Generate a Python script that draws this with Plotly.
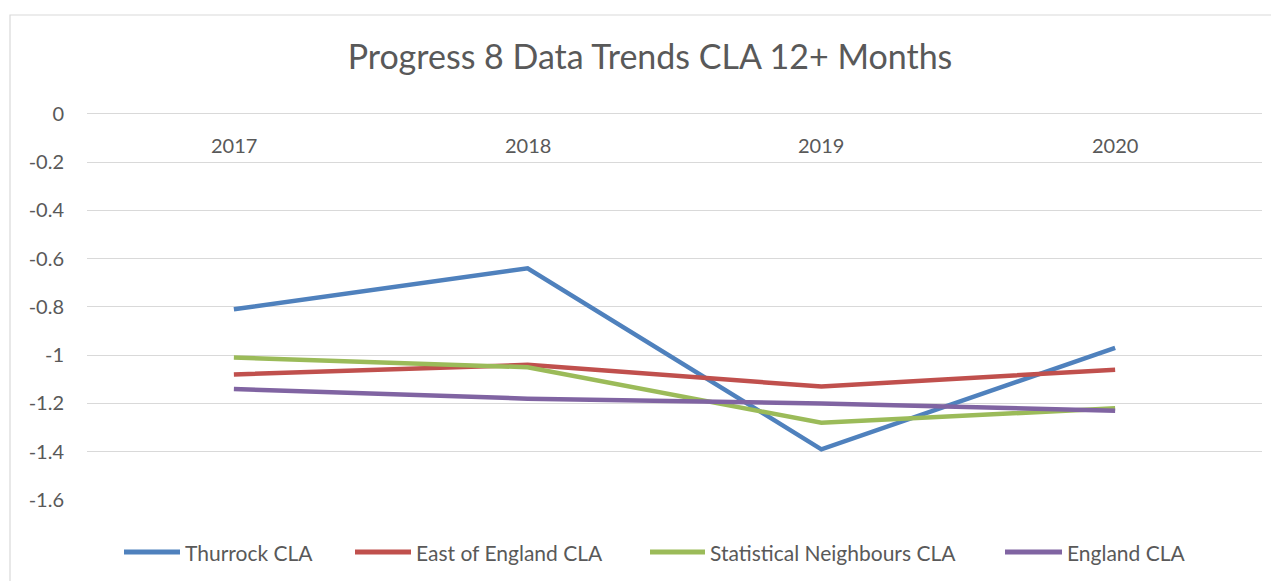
import plotly.graph_objects as go

years = ["2017", "2018", "2019", "2020"]
thurrock = [-0.81, -0.64, -1.39, -0.97]
east_of_england = [-1.08, -1.04, -1.13, -1.06]
stat_neighbours = [-1.01, -1.05, -1.28, -1.22]
england = [-1.14, -1.18, -1.20, -1.23]

series_names = ["Thurrock CLA", "East of England CLA", "Statistical Neighbours CLA", "England CLA"]
series_values = [thurrock, east_of_england, stat_neighbours, england]
series_colors = ["#4F81BD", "#C0504D", "#9BBB59", "#8064A2"]

y_tickvals = [0, -0.2, -0.4, -0.6, -0.8, -1.0, -1.2, -1.4, -1.6]
y_ticktext = ["0", "-0.2", "-0.4", "-0.6", "-0.8", "-1", "-1.2", "-1.4", "-1.6"]

FONT = "Lato"
TXT = "#595959"

# figure geometry (page has an 8px body margin)
W, H = 1271, 573
L, R, T, B = 79, 17, 101, 81
PW = W - L - R
PH = H - T - B


def px_x(page_x):
    return (page_x - 8 - L) / PW


def px_y(page_y):
    return (H - B - (page_y - 8)) / PH


fig = go.Figure()
for name, vals, col in zip(series_names, series_values, series_colors):
    fig.add_trace(go.Scatter(x=years, y=vals, name=name, mode="lines",
                             line=dict(color=col, width=4.5), showlegend=False))

shapes = [dict(type="rect", xref="paper", yref="paper",
               x0=px_x(10), x1=1.2, y0=-0.4, y1=px_y(15),
               line=dict(color="#D9D9D9", width=1.2), fillcolor="rgba(0,0,0,0)",
               layer="below")]
annotations = []

# category labels sit just under the 0 line (Excel axis crossing at 0);
# on a category axis, annotation x is the category's serial index
for i, yr in enumerate(years):
    annotations.append(dict(text=yr, xref="x", yref="paper", x=i, y=px_y(145),
                            xanchor="center", yanchor="middle", showarrow=False,
                            font=dict(family=FONT, size=20, color=TXT)))

# custom legend (Excel style: long key lines)
legend_keys = [(124, 180), (355, 411), (650, 705), (1005, 1062)]
ly = px_y(552)
for (a, b), name, col in zip(legend_keys, series_names, series_colors):
    shapes.append(dict(type="line", xref="paper", yref="paper",
                       x0=px_x(a), x1=px_x(b), y0=ly, y1=ly,
                       line=dict(color=col, width=5)))
    annotations.append(dict(text=name, xref="paper", yref="paper",
                            x=px_x(b + 3), y=ly, xanchor="left", yanchor="middle",
                            showarrow=False,
                            font=dict(family=FONT, size=21, color=TXT)))

fig.update_layout(
    width=W, height=H,
    paper_bgcolor="white", plot_bgcolor="white",
    margin=dict(l=L, r=R, t=T, b=B, autoexpand=False),
    font=dict(family=FONT, color=TXT),
    title=dict(text="Progress 8 Data Trends CLA 12+ Months",
               x=642/W, xref="container", xanchor="center",
               y=1 - 49/H, yref="container", yanchor="middle",
               font=dict(family=FONT, size=34, color=TXT)),
    xaxis=dict(type="category", categoryorder="array", categoryarray=years,
               range=[-0.5, 3.5], showticklabels=False,
               ticks="", showline=False, showgrid=False, zeroline=False),
    yaxis=dict(range=[-1.6, 0.02], tickvals=y_tickvals, ticktext=y_ticktext,
               showgrid=True, gridcolor="#D9D9D9", gridwidth=1.3,
               zeroline=False, showline=False, ticks="",
               tickfont=dict(family=FONT, size=20, color=TXT),
               ticklabelstandoff=22),
    showlegend=False,
    shapes=shapes,
    annotations=annotations,
)

fig.write_html("out.html")
